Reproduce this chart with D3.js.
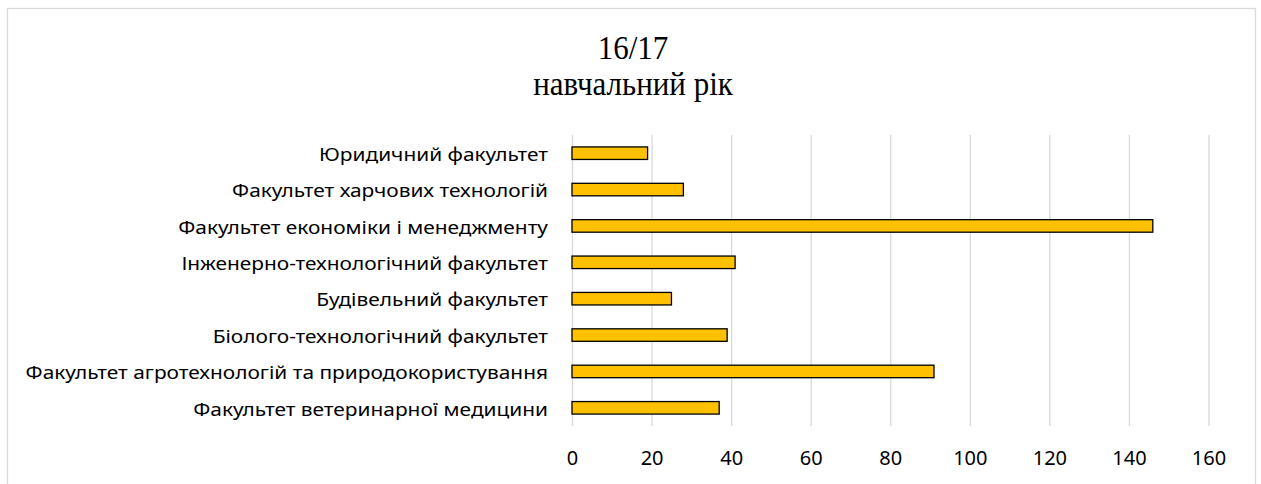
<!DOCTYPE html>
<html>
<head>
<meta charset="utf-8">
<script src="https://cdn.jsdelivr.net/npm/d3@7"></script>
<style>
   html, body { margin: 0; padding: 0; background: #fff; }
   .axis .domain { display: none; }
   .axis line { stroke: #d9d9d9; stroke-width: 1.3; }
   .axis text { font-family: "Noto Sans", sans-serif; font-size: 20px; fill: #000; }
</style>
</head>
<body>
<div id="chartContainer"></div>
<script>
var titleLines = ["16/17", "навчальний рік"];

var categories = [
   "Юридичний факультет",
   "Факультет харчових технологій",
   "Факультет економіки і менеджменту",
   "Інженерно-технологічний факультет",
   "Будівельний факультет",
   "Біолого-технологічний факультет",
   "Факультет агротехнологій та природокористування",
   "Факультет ветеринарної медицини"
];

var values = [19, 28, 146, 41, 25, 39, 91, 37];

var xTicks = [0, 20, 40, 60, 80, 100, 120, 140, 160];

var width = 1261;
var height = 484;

var plot = {
   left: 572,
   right: 1208.5,
   top: 135,
   bottom: 426
};

var svg = d3.select("#chartContainer")
   .append("svg")
   .attr("width", width)
   .attr("height", height);

svg.append("rect")
   .attr("width", width)
   .attr("height", height)
   .attr("fill", "#fff");

// chart area border (bottom edge falls outside the picture)
svg.append("rect")
   .attr("x", 7.5)
   .attr("y", 8.5)
   .attr("width", 1248)
   .attr("height", 520)
   .attr("fill", "none")
   .attr("stroke", "#d9d9d9")
   .attr("stroke-width", 1.3);

var xScale = d3.scaleLinear()
   .domain([0, 160])
   .range([plot.left, plot.right]);

var yScale = d3.scaleBand()
   .domain(categories)
   .range([plot.top, plot.bottom])
   .paddingInner(0.656)
   .paddingOuter(0.328);

var xAxis = d3.axisBottom(xScale)
   .tickValues(xTicks)
   .tickSize(-(plot.bottom - plot.top))
   .tickFormat(d3.format("d"));

var gX = svg.append("g")
   .attr("class", "axis axis--x")
   .attr("transform", "translate(0," + plot.bottom + ")")
   .call(xAxis);

gX.selectAll("text")
   .attr("y", 39)
   .attr("dy", 0);

// bars
svg.selectAll(".bar")
   .data(values)
   .enter().append("rect")
   .attr("class", "bar")
   .attr("x", xScale(0))
   .attr("y", function (d, i) { return yScale(categories[i]); })
   .attr("width", function (d) { return xScale(d) - xScale(0); })
   .attr("height", yScale.bandwidth())
   .attr("fill", "#ffc000")
   .attr("stroke", "#000")
   .attr("stroke-width", 1.3);

// category labels: width fitted to the longest label, then stretched a bit
// vertically like the source picture
var labels = svg.append("g")
   .attr("class", "labels")
   .style("font-family", "'Noto Sans', sans-serif")
   .style("font-size", "20px");

var labelText = labels.selectAll("text")
   .data(categories)
   .enter().append("text")
   .attr("text-anchor", "end")
   .attr("fill", "#000")
   .text(function (d) { return d; });

var longest = d3.max(labelText.nodes(), function (n) { return n.getComputedTextLength(); });
var labelSize = 20 * 523 / longest;
var labelStretch = 13.3 / (0.714 * labelSize);
labels.style("font-size", labelSize + "px");
labelText
   .attr("y", 7.8 / labelStretch)
   .attr("transform", function (d) {
      return "translate(548," + (yScale(d) + yScale.bandwidth() / 2) + ") scale(1," + labelStretch + ")";
   });

// title
var title = svg.append("g")
   .attr("class", "title")
   .style("font-family", "'Liberation Serif', 'Times New Roman', serif")
   .style("font-size", "31px");

title.selectAll("text")
   .data(titleLines)
   .enter().append("text")
   .attr("text-anchor", "middle")
   .attr("fill", "#000")
   .attr("transform", function (d, i) { return "translate(633," + (59 + i * 36) + ") scale(1,1.08)"; })
   .text(function (d) { return d; });
</script>
</body>
</html>
